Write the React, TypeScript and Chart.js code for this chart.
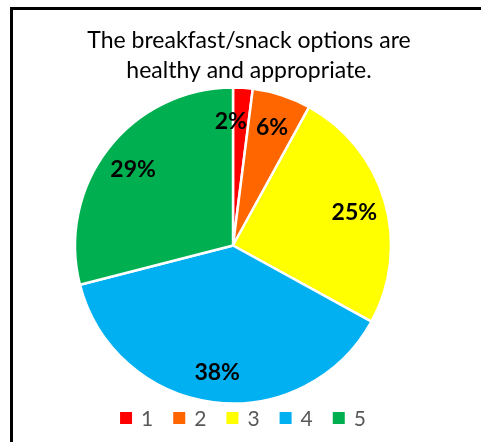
import React, { useEffect, useRef } from "react";
import { Chart, registerables } from "chart.js";

Chart.register(...registerables);

const titleLines = ["The breakfast/snack options are", "healthy and appropriate."];
const categories = ["1", "2", "3", "4", "5"];
const percentages = [2, 6, 25, 38, 29];
const sliceColors = ["#FF0000", "#FF6600", "#FFFF00", "#00B0F0", "#00B050"];

const FONT = "Lato, 'Open Sans', sans-serif";

const titlePlugin = {
  id: "customTitle",
  afterDraw(chart: any) {
    const ctx = chart.ctx;
    ctx.save();
    ctx.fillStyle = "#000000";
    ctx.font = `23px ${FONT}`;
    ctx.textAlign = "center";
    ctx.textBaseline = "middle";
    titleLines.forEach((line, i) => {
      ctx.fillText(line, 249, 41 + i * 30);
    });
    ctx.restore();
  },
};

const legendPlugin = {
  id: "customLegend",
  afterDraw(chart: any) {
    const ctx = chart.ctx;
    const labels: string[] = chart.data.labels;
    const colors: string[] = chart.data.datasets[0].backgroundColor;
    const box = 12;
    const fontSize = 21;
    const gap = 9;
    const itemPad = 20;
    ctx.save();
    ctx.font = `${fontSize}px ${FONT}`;
    const widths = labels.map((t) => box + gap + ctx.measureText(t).width);
    const total = widths.reduce((a, b) => a + b, 0) + itemPad * (labels.length - 1);
    let x = 243 - total / 2;
    const cy = 418;
    labels.forEach((t, i) => {
      ctx.fillStyle = colors[i];
      ctx.fillRect(x, cy - box / 2, box, box);
      ctx.fillStyle = "#595959";
      ctx.textAlign = "left";
      ctx.textBaseline = "middle";
      ctx.fillText(t, x + box + gap, cy + 1);
      x += widths[i] + itemPad;
    });
    ctx.restore();
  },
};

const labelPlugin = {
  id: "sliceLabels",
  afterDatasetsDraw(chart: any) {
    const ctx = chart.ctx;
    const meta = chart.getDatasetMeta(0);
    ctx.save();
    ctx.fillStyle = "#000000";
    ctx.font = `bold 23px ${FONT}`;
    ctx.textAlign = "center";
    ctx.textBaseline = "middle";
    const items = meta.data.map((arc: any, i: number) => {
      const { x, y, startAngle, endAngle, outerRadius } = arc.getProps(
        ["x", "y", "startAngle", "endAngle", "outerRadius"],
        true
      );
      const mid = (startAngle + endAngle) / 2;
      const r = outerRadius * 0.8;
      const text = percentages[i] + "%";
      return {
        text,
        x: x + Math.cos(mid) * r,
        y: y + Math.sin(mid) * r + 2,
        w: ctx.measureText(text).width,
        share: percentages[i],
      };
    });
    // simple collision avoidance: nudge the smaller of two overlapping labels sideways
    const minGap = 9;
    for (let i = 0; i < items.length; i++) {
      const a = items[i];
      const b = items[(i + 1) % items.length];
      if (Math.abs(a.y - b.y) < 22) {
        const left = a.x < b.x ? a : b;
        const right = a.x < b.x ? b : a;
        const overlap = left.x + left.w / 2 + minGap - (right.x - right.w / 2);
        if (overlap > 0) {
          if (left.share <= right.share) left.x -= overlap;
          else right.x += overlap;
        }
      }
    }
    items.forEach((it: any) => ctx.fillText(it.text, it.x, it.y));
    ctx.restore();
  },
};

export default function App() {
  const canvasRef = useRef<HTMLCanvasElement | null>(null);

  useEffect(() => {
    if (!canvasRef.current) return;
    const chart = new Chart(canvasRef.current, {
      type: "pie",
      data: {
        labels: categories,
        datasets: [
          {
            data: percentages,
            backgroundColor: sliceColors,
            borderColor: "#FFFFFF",
            borderWidth: 2.5,
            clip: false,
          } as any,
        ],
      },
      options: {
        responsive: false,
        animation: false,
        radius: 158,
        layout: {
          padding: { left: 76, right: 91, top: 88, bottom: 39 },
        },
        plugins: {
          title: { display: false },
          tooltip: { enabled: false },
          legend: { display: false },
        },
      } as any,
      plugins: [titlePlugin, labelPlugin, legendPlugin],
    });
    return () => chart.destroy();
  }, []);

  return (
    <div
      style={{
        position: "fixed",
        left: 0,
        top: 0,
        width: 481,
        height: 442,
        background: "#FFFFFF",
        overflow: "hidden",
      }}
    >
      <canvas
        ref={canvasRef}
        width={481}
        height={442}
        style={{ position: "absolute", left: 0, top: 0, width: 481, height: 442 }}
      />
      <div
        style={{
          position: "absolute",
          left: 10,
          top: 7,
          width: 471,
          height: 435,
          borderLeft: "3px solid #000000",
          borderTop: "3px solid #000000",
          boxSizing: "border-box",
          pointerEvents: "none",
        }}
      />
    </div>
  );
}
